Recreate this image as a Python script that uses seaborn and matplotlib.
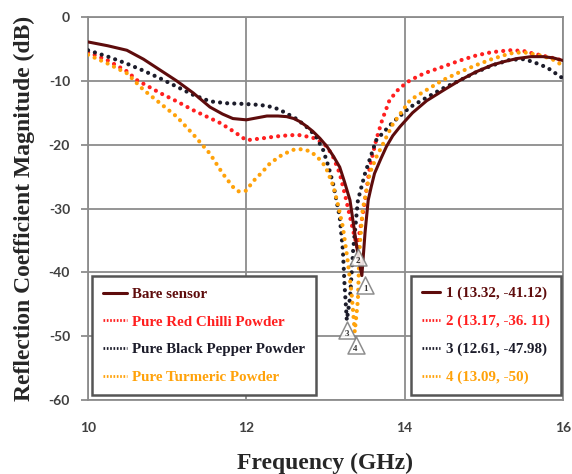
import numpy as np
import pandas as pd
import matplotlib
matplotlib.use('Agg')
import matplotlib.pyplot as plt
import seaborn as sns
from matplotlib.lines import Line2D

# curves
bare_x = [10.0, 10.25, 10.49, 10.7, 10.91, 11.12, 11.33, 11.54, 11.7, 11.83, 12.0, 12.13, 12.26, 12.4,
          12.51, 12.6, 12.68, 12.76, 12.84, 12.93, 13.02, 13.1, 13.18, 13.24, 13.31, 13.37, 13.42, 13.46,
          13.5, 13.54, 13.58, 13.62, 13.7, 13.77, 13.85, 13.94, 14.1, 14.28, 14.5, 14.7, 14.9, 15.11,
          15.25, 15.42, 15.6, 15.75, 15.88, 16.0]
bare_y = [-3.9, -4.5, -5.2, -6.6, -8.3, -10.0, -11.9, -14.1, -15.2, -15.9, -16.1, -15.8, -15.5, -15.5,
          -15.6, -15.9, -16.4, -17.1, -17.9, -19.0, -20.3, -21.8, -23.5, -25.8, -28.7, -33.8, -38.0, -40.5,
          -33.8, -28.7, -26.5, -24.5, -22.2, -20.3, -18.6, -17.2, -15.0, -13.1, -11.4, -9.9, -8.6, -7.5,
          -7.0, -6.5, -6.2, -6.2, -6.4, -6.8]

red_x = [10.0, 10.25, 10.49, 10.62, 10.91, 11.12, 11.33, 11.5, 11.67, 11.85, 12.0, 12.2, 12.38, 12.55,
         12.68, 12.84, 12.93, 13.02, 13.1, 13.18, 13.25, 13.31, 13.36, 13.40, 13.43, 13.47, 13.5, 13.56,
         13.64, 13.72, 13.81, 13.93, 14.07, 14.25, 14.48, 14.7, 14.91, 15.1, 15.33, 15.5, 15.62, 15.8, 16.0]
red_y = [-5.5, -6.8, -8.5, -9.9, -11.9, -13.2, -14.6, -15.6, -16.6, -18.0, -19.3, -19.0, -18.7, -18.5,
         -18.5, -18.9, -19.5, -20.3, -22.0, -24.5, -28.0, -31.3, -34.0, -36.0, -33.8, -31.0, -28.7, -23.5,
         -19.3, -16.0, -13.0, -11.2, -9.9, -8.8, -7.8, -6.8, -6.0, -5.5, -5.2, -5.3, -5.7, -6.2, -6.8]

black_x = [10.0, 10.25, 10.49, 10.7, 10.91, 11.12, 11.33, 11.54, 11.75, 11.96, 12.1, 12.26, 12.4, 12.51,
           12.64, 12.76, 12.87, 12.97, 13.04, 13.1, 13.18, 13.22, 13.24, 13.27, 13.31, 13.35, 13.41, 13.5,
           13.64, 13.85, 14.07, 14.28, 14.48, 14.7, 14.91, 15.1, 15.33, 15.5, 15.62, 15.8, 16.0]
black_y = [-5.2, -6.2, -7.3, -8.4, -9.6, -10.9, -12.2, -13.2, -13.5, -13.6, -13.7, -13.9, -14.4, -15.1,
           -16.0, -17.2, -18.5, -20.8, -23.5, -26.3, -31.3, -36.5, -41.7, -47.5, -44.0, -36.5, -28.7, -24.5,
           -19.3, -16.5, -14.1, -12.6, -11.2, -9.9, -8.6, -7.6, -6.7, -6.6, -7.0, -7.9, -9.6]

orange_x = [10.0, 10.25, 10.49, 10.7, 10.91, 11.12, 11.33, 11.54, 11.7, 11.83, 11.9, 12.0, 12.08, 12.2,
            12.3, 12.45, 12.59, 12.7, 12.8, 12.89, 13.0, 13.1, 13.16, 13.22, 13.28, 13.33, 13.37, 13.41,
            13.43, 13.47, 13.56, 13.64, 13.71, 13.85, 14.07, 14.28, 14.48, 14.7, 14.91, 15.1, 15.33, 15.5,
            15.75, 15.88, 16.0]
orange_y = [-5.9, -7.3, -8.8, -11.4, -13.5, -15.6, -18.4, -21.4, -24.5, -26.6, -27.3, -27.2, -25.8, -24.3,
            -22.9, -21.6, -20.8, -20.7, -21.0, -21.8, -23.4, -26.5, -29.5, -32.9, -38.1, -43.3, -49.3, -44.3,
            -36.5, -30.2, -24.5, -22.0, -20.3, -16.8, -13.0, -11.4, -9.9, -8.6, -7.5, -6.6, -5.7, -5.5,
            -6.1, -6.7, -7.6]

series_names = ['Bare sensor', 'Pure Red Chilli Powder', 'Pure Black Pepper Powder', 'Pure Turmeric Powder']
point_labels = ['1 (13.32, -41.12)', '2 (13.17, -36. 11)', '3 (12.61, -47.98)', '4 (13.09, -50)']

# triangle markers below each minimum
marker_x = [13.50, 13.41, 13.27, 13.38]
marker_y = [-42.0, -37.6, -49.0, -51.4]
marker_num = ['1', '2', '3', '4']

colors = ['#5e0c0c', '#ff1f1f', '#1c1c2a', '#ffa20a']
curves = [(bare_x, bare_y), (red_x, red_y), (black_x, black_y), (orange_x, orange_y)]

sns.set_style('white')
plt.rcParams['font.family'] = ['Liberation Serif', 'DejaVu Serif']
plt.rcParams['axes.unicode_minus'] = False

fig, ax = plt.subplots(figsize=(5.72, 4.74), dpi=100)
fig.subplots_adjust(left=0.154, right=0.984, top=0.964, bottom=0.156)

for i, (xs, ys) in enumerate(curves):
    if i == 0:
        sns.lineplot(x=xs, y=ys, ax=ax, color=colors[i], linewidth=2.2, zorder=5)
    else:
        sns.lineplot(x=xs, y=ys, ax=ax, color=colors[i], linewidth=3.0, zorder=3 + i * 0.1,
                     linestyle=(0, (0.01, 1.7)), dash_capstyle='round')

# triangles with the point number inside
ax.scatter(marker_x, marker_y, marker='^', s=150, facecolor='white', edgecolor='#7a7a7a',
           linewidth=1.1, zorder=6, alpha=0.85)
for mx, my, mn in zip(marker_x, marker_y, marker_num):
    ax.text(mx, my - 0.6, mn, fontsize=6.5, ha='center', va='center', color='#333333', zorder=7,
            fontweight='bold')

ax.set_xlim(10, 16)
ax.set_ylim(-60, 0)
ax.set_xticks([10, 12, 14, 16])
ax.set_yticks([0, -10, -20, -30, -40, -50, -60])
ax.grid(True, color='#8c8c8c', linewidth=1.3)
for s in ax.spines.values():
    s.set_color('#8c8c8c')
    s.set_linewidth(1.3)
ax.tick_params(axis='y', length=5, color='#8c8c8c', pad=8, width=1.3, left=True)
ax.tick_params(axis='x', length=0, pad=16)
for lab in ax.get_xticklabels() + ax.get_yticklabels():
    lab.set_family(['Lato', 'DejaVu Sans'])
    lab.set_fontweight('bold')
    lab.set_fontsize(10)
    lab.set_color('#404040')

ax.set_xlabel('Frequency (GHz)', fontsize=17, fontweight='bold', labelpad=13)
ax.set_ylabel('Reflection Coefficient Magnitude (dB)', fontsize=17, fontweight='bold', labelpad=10)

handles = []
for i in range(4):
    if i == 0:
        handles.append(Line2D([], [], color=colors[i], linewidth=2.2))
    else:
        handles.append(Line2D([], [], color=colors[i], linewidth=2.0, linestyle=(0, (0.6, 0.6))))

leg_font = {'family': 'Liberation Serif', 'weight': 'bold', 'size': 10.8}
leg1 = ax.legend(handles, series_names, loc='lower left', bbox_to_anchor=(0.008, 0.012),
                 prop=leg_font, handlelength=1.6, handletextpad=0.3, labelspacing=0.95, borderpad=0.75,
                 fancybox=False, framealpha=1, edgecolor='#555555', borderaxespad=0)
leg1.get_frame().set_linewidth(1.8)
for t, c in zip(leg1.get_texts(), colors):
    t.set_color(c)
ax.add_artist(leg1)

leg2 = ax.legend(handles, point_labels, loc='lower right', bbox_to_anchor=(0.996, 0.012),
                 prop=leg_font, handlelength=1.2, handletextpad=0.4, labelspacing=0.95, borderpad=0.75,
                 fancybox=False, framealpha=1, edgecolor='#555555', borderaxespad=0)
leg2.get_frame().set_linewidth(1.8)
for t, c in zip(leg2.get_texts(), colors):
    t.set_color(c)

fig.savefig('out.png', dpi=100)
